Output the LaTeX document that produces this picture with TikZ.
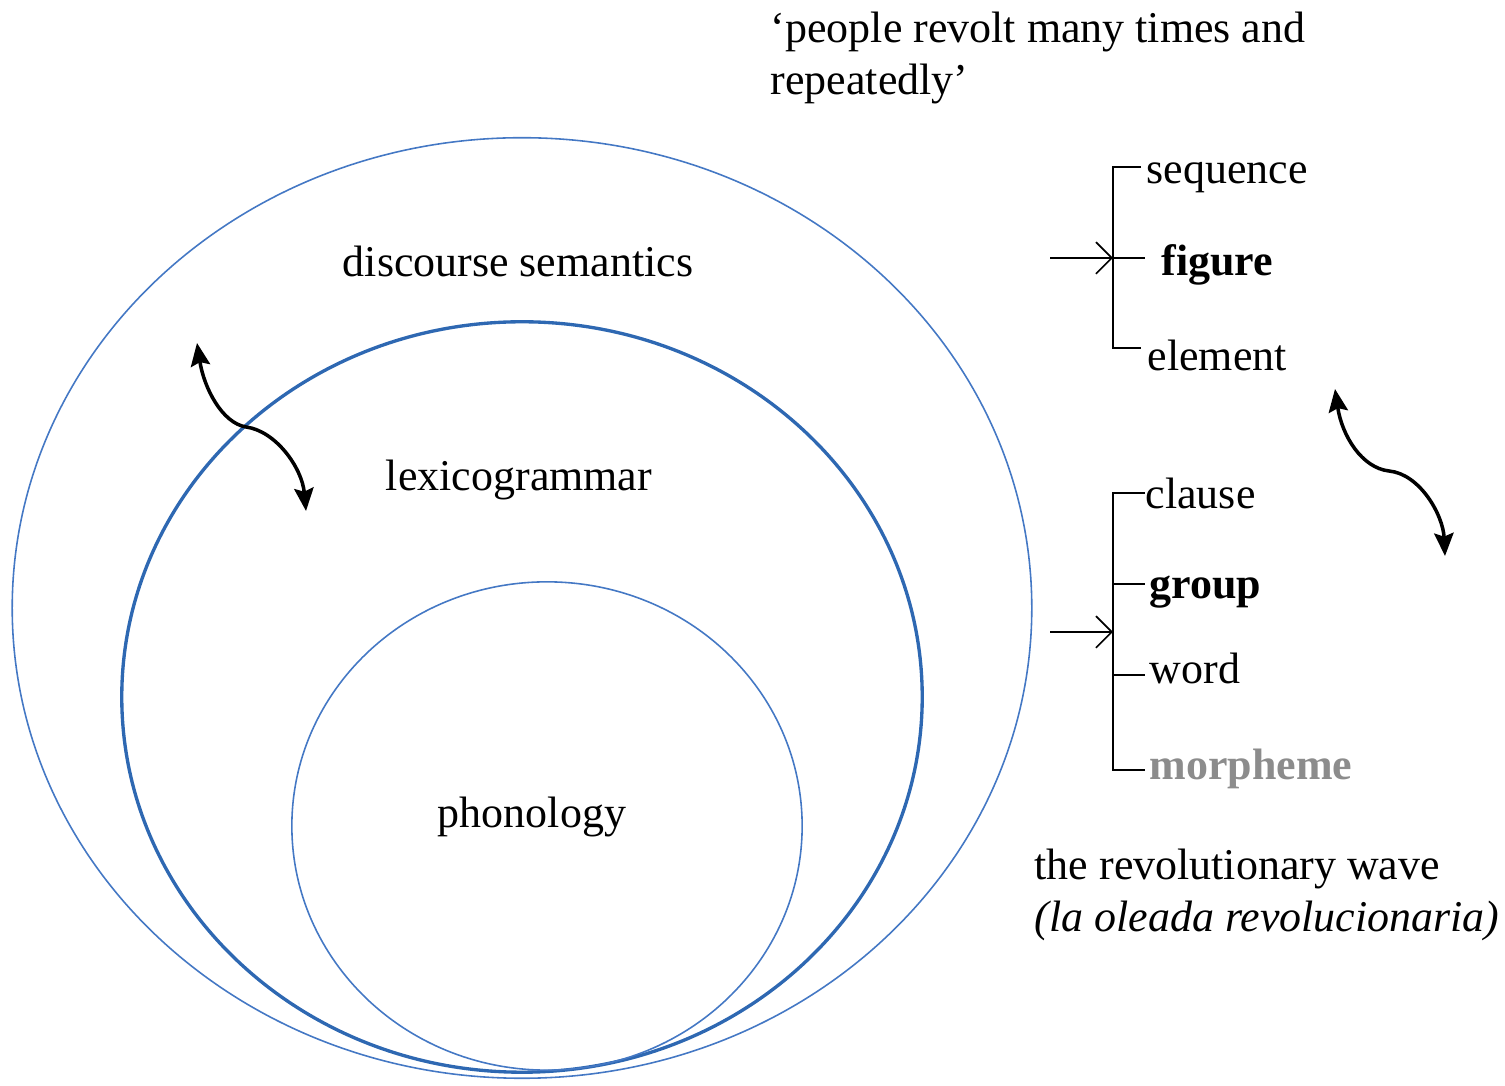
\documentclass[tikz,border=0pt]{standalone}
\usepackage{fontspec}
\setmainfont{Liberation Serif}
\usetikzlibrary{shapes.geometric,arrows.meta}

\definecolor{ringblue}{RGB}{68,120,196}
\definecolor{ringdark}{RGB}{46,104,178}
\definecolor{morphgray}{RGB}{140,140,140}

\tikzset{
	ring/.style={ellipse, draw=ringblue, line width=0.45pt, inner sep=0pt},
	label/.style={inner sep=0pt, font=\fontsize{12.5}{15}\selectfont},
	unit/.style={label, anchor=base west},
	bracket/.style={line width=0.5pt},
	pointer/.style={line width=0.5pt, -{Straight Barb[length=4.5pt,width=9pt]}},
	swap/.style={line width=1pt, {Stealth[length=6.5pt,width=5.5pt,inset=1pt]}-{Stealth[length=6.5pt,width=5.5pt,inset=1pt]}}
}

\begin{document}
\begin{tikzpicture}[x=0.01cm, y=-0.01cm]
			\useasboundingbox (0,0) rectangle (1505,1086);

			\node[ring, minimum width=10.19cm, minimum height=9.40cm] (semantics) at (522,608) {};
			\node[ring, draw=ringdark, line width=0.95pt, minimum width=8.00cm, minimum height=7.50cm] (grammar) at (522,697) {};
			\node[ring, minimum width=5.10cm, minimum height=4.88cm] (phonology) at (547,826) {};

			\node[label, anchor=base] (semlabel) at (518,277) {discourse semantics};
			\node[label, anchor=base] (gramlabel) at (519,491) {lexicogrammar};
			\node[label, anchor=base] (phonlabel) at (532,828) {phonology};

			\node[unit] (quote1) at (770,43) {‘people revolt many times and};
			\node[unit] (quote2) at (770,95) {repeatedly’};

			\node[unit] (sequence) at (1146,184) {sequence};
			\node[unit] (figure) at (1161,276) {\textbf{figure}};
			\node[unit] (element) at (1147,371) {element};

			\node[unit] (clause) at (1145,509) {clause};
			\node[unit] (group) at (1149,599) {\textbf{group}};
			\node[unit] (word) at (1149,684) {word};
			\node[unit, text=morphgray] (morpheme) at (1149,780) {\textbf{morpheme}};

			\node[unit] (wave) at (1034,880) {the revolutionary wave};
			\node[unit] (oleada) at (1034,932) {\textit{(la oleada revolucionaria)}};

			\coordinate (b1top) at (1113,167);
			\coordinate (b1mid) at (1113,258);
			\coordinate (b1bot) at (1113,348);
			\coordinate (in1) at (1050,258);
			\draw[bracket] (1141,167) -- (b1top) -- (b1bot) -- (1141,348);
			\draw[bracket] (b1mid) -- (1145,258);
			\draw[pointer] (in1) -- (b1mid);

			\coordinate (b2top) at (1113,493);
			\coordinate (b2mid) at (1113,632);
			\coordinate (b2bot) at (1113,770);
			\coordinate (in2) at (1050,632);
			\draw[bracket] (1145,493) -- (b2top) -- (b2bot) -- (1145,770);
			\draw[bracket] (1113,584) -- (1145,584);
			\draw[bracket] (1113,675) -- (1145,675);
			\draw[pointer] (in2) -- (b2mid);

			\coordinate (s1) at (197,343);
			\coordinate (m1) at (246,427);
			\coordinate (e1) at (306,511);
			\draw[swap] (s1) .. controls (204,388) and (222,423) .. (m1) .. controls (276,431) and (302,468) .. (e1);

			\coordinate (s2) at (1335,389);
			\coordinate (m2) at (1389,471);
			\coordinate (e2) at (1445,556);
			\draw[swap] (s2) .. controls (1342,436) and (1362,468) .. (m2) .. controls (1420,474) and (1443,515) .. (e2);
		\end{tikzpicture}
\end{document}
